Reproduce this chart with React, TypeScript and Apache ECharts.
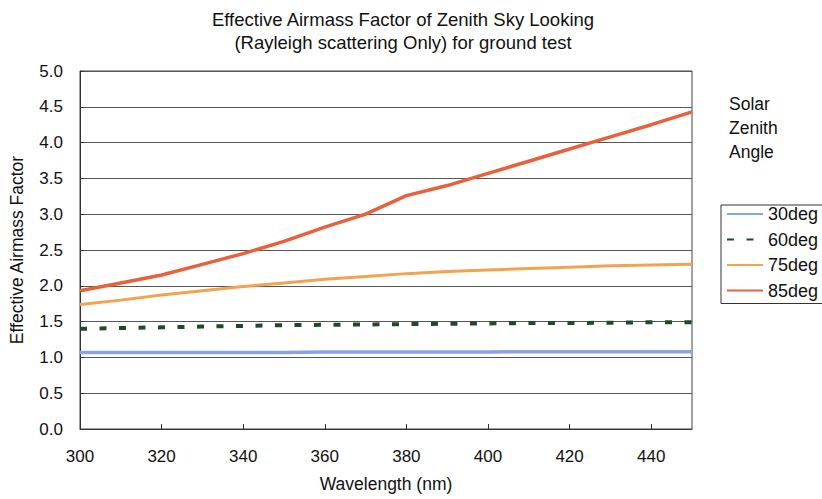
import React, { useEffect, useRef } from "react";
import * as echarts from "echarts";

const wavelengths = [300, 310, 320, 330, 340, 350, 360, 370, 380, 390, 400, 410, 420, 430, 440, 450];
const deg30 = [1.07, 1.07, 1.07, 1.07, 1.07, 1.07, 1.075, 1.075, 1.075, 1.075, 1.075, 1.08, 1.08, 1.08, 1.08, 1.08];
const deg60 = [1.4, 1.41, 1.42, 1.43, 1.44, 1.45, 1.455, 1.46, 1.465, 1.47, 1.475, 1.48, 1.48, 1.485, 1.49, 1.49];
const deg75 = [1.74, 1.8, 1.87, 1.93, 1.99, 2.04, 2.09, 2.13, 2.17, 2.2, 2.22, 2.24, 2.26, 2.28, 2.29, 2.3];
const deg85 = [1.93, 2.04, 2.15, 2.3, 2.45, 2.62, 2.82, 3.0, 3.26, 3.4, 3.57, 3.74, 3.91, 4.08, 4.25, 4.43];
const seriesNames = ["30deg", "60deg", "75deg", "85deg"];
const yTicks = { min: 0, max: 5, interval: 0.5 };
const xTicks = { min: 300, max: 450, interval: 20 };

const FONT = "'Liberation Sans', Arial, sans-serif";
const TXT = "#111";

export default function App() {
  const ref = useRef<HTMLDivElement>(null);
  useEffect(() => {
    if (!ref.current) return;
    const chart = echarts.init(ref.current, null, { renderer: "svg" });
    const pair = (arr: number[]) => wavelengths.map((w, i) => [w, arr[i]]);
    chart.setOption({
      animation: false,
      backgroundColor: "#ffffff",
      textStyle: { fontFamily: FONT },
      title: {
        text: "Effective Airmass Factor of Zenith Sky Looking\n(Rayleigh scattering Only) for ground test",
        left: 398,
        top: 3,
        textAlign: "center",
        textStyle: { fontSize: 18.5, fontWeight: "normal", color: TXT, lineHeight: 23, fontFamily: FONT },
      },
      grid: {
        left: 79,
        right: 130,
        top: 71,
        bottom: 70,
        show: true,
        borderColor: "#444",
        borderWidth: 1,
      },
      xAxis: {
        type: "value",
        min: xTicks.min,
        max: xTicks.max,
        interval: xTicks.interval,
        name: "Wavelength (nm)",
        nameLocation: "middle",
        nameGap: 46,
        nameTextStyle: { fontSize: 17.5, color: TXT, fontFamily: FONT },
        axisLine: { show: true, lineStyle: { color: "#333", width: 1 } },
        axisTick: { show: true, inside: true, length: 5, lineStyle: { color: "#333" } },
        axisLabel: { showMaxLabel: false, fontSize: 17, color: TXT, margin: 19, fontFamily: FONT },
        splitLine: { show: false },
      },
      yAxis: {
        type: "value",
        min: yTicks.min,
        max: yTicks.max,
        interval: yTicks.interval,
        name: "Effective Airmass Factor",
        nameLocation: "middle",
        nameGap: 54,
        nameRotate: 90,
        nameTextStyle: { fontSize: 17.5, color: TXT, fontFamily: FONT },
        axisLine: { show: true, lineStyle: { color: "#333", width: 1 } },
        axisTick: { show: true, inside: true, length: 4, lineStyle: { color: "#333" } },
        axisLabel: { fontSize: 17, color: TXT, margin: 17, fontFamily: FONT, formatter: (v: number) => v.toFixed(1) },
        splitLine: { show: true, lineStyle: { color: "#555", width: 1.2 } },
      },
      legend: {
        orient: "vertical",
        left: 721,
        top: 205,
        data: seriesNames,
        itemWidth: 36,
        itemHeight: 14,
        itemGap: 7.5,
        padding: [0, 8, 4, 5],
        borderColor: "#333",
        borderWidth: 1,
        itemStyle: { opacity: 0 },
        textStyle: { fontSize: 18, color: TXT, lineHeight: 17, fontFamily: FONT },
      },
      graphic: [
        {
          type: "text",
          left: 729,
          top: 92,
          style: {
            text: "Solar\nZenith\nAngle",
            fontSize: 17.5,
            lineHeight: 24,
            fill: TXT,
            fontFamily: FONT,
          },
        },
      ],
      series: [
        {
          name: seriesNames[0],
          type: "line",
          data: pair(deg30),
          showSymbol: false,
          symbol: "none",
          color: "#8aa4e0",
          lineStyle: { width: 3.5, color: "#8aa4e0" },
        },
        {
          name: seriesNames[1],
          type: "line",
          data: pair(deg60),
          showSymbol: false,
          symbol: "none",
          color: "#1f4a2c",
          lineStyle: { width: 4, color: "#1f4a2c", type: [7, 12.5] },
        },
        {
          name: seriesNames[2],
          type: "line",
          data: pair(deg75),
          showSymbol: false,
          symbol: "none",
          color: "#f5a24e",
          lineStyle: { width: 3, color: "#f5a24e" },
        },
        {
          name: seriesNames[3],
          type: "line",
          data: pair(deg85),
          showSymbol: false,
          symbol: "none",
          color: "#e8603c",
          lineStyle: { width: 3.5, color: "#e8603c" },
        },
      ],
    });
    return () => chart.dispose();
  }, []);
  return <div ref={ref} style={{ position: "fixed", left: 0, top: 0, width: 822, height: 499 }} />;
}
